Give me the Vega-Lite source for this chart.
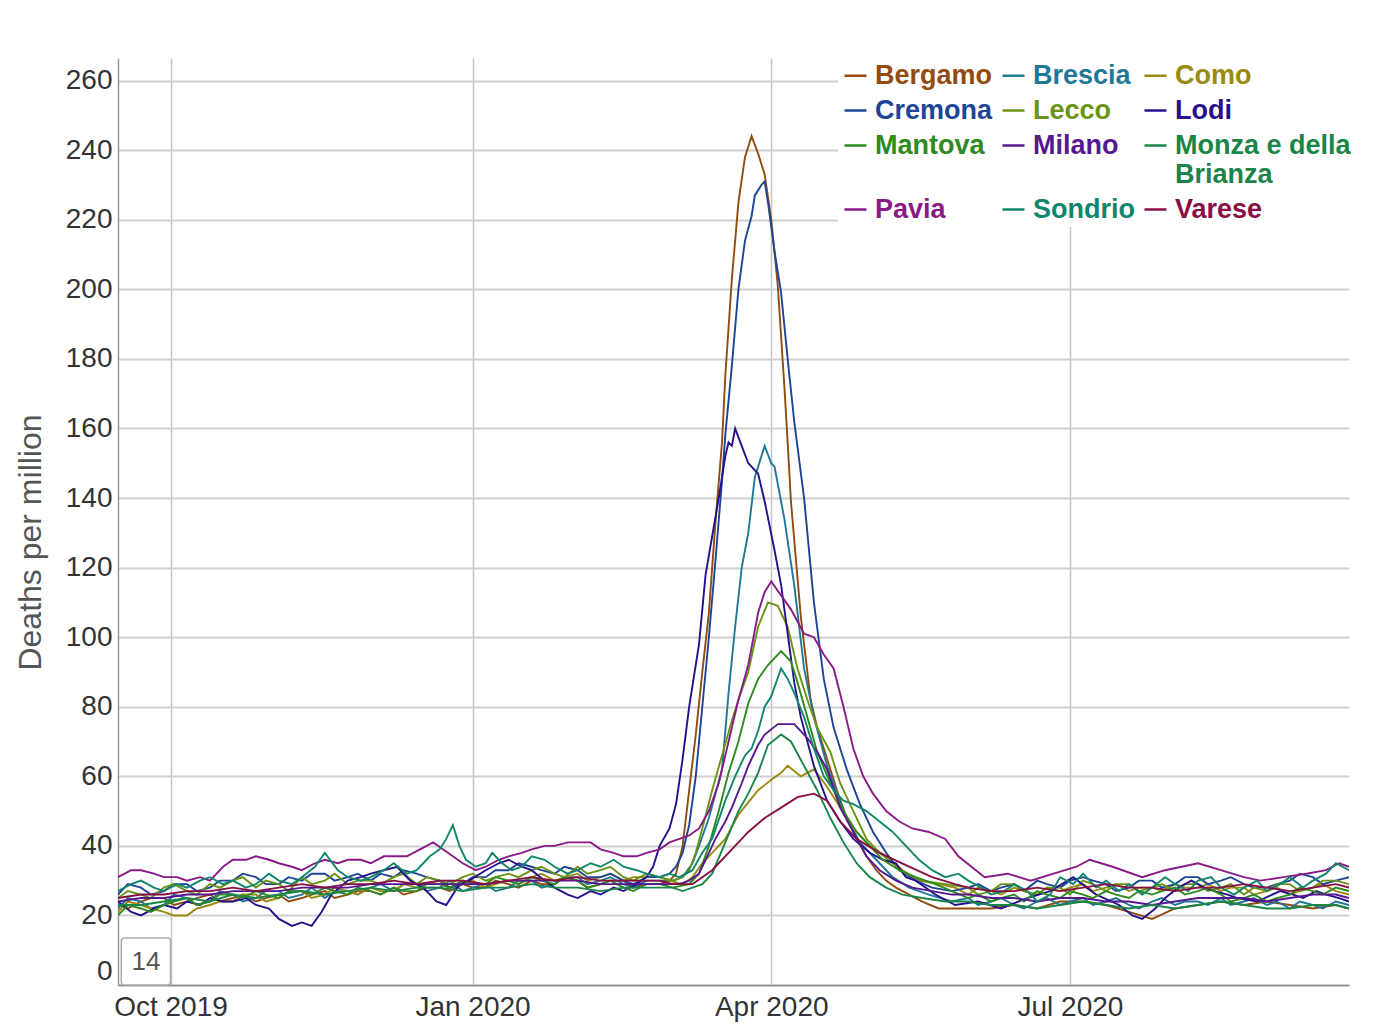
{
"$schema":"https://vega.github.io/schema/vega-lite/v6.json",
"width":1231,"height":927,
"autosize":{"type":"none"},
"padding":{"left":118,"top":58,"right":30,"bottom":38},
"background":"white",
"config":{"font":"Liberation Sans","view":{"stroke":null}},
"datasets":{"main":[
{"r":"Bergamo","d":"2019-09-15","v":23},{"r":"Bergamo","d":"2019-09-22","v":24},{"r":"Bergamo","d":"2019-09-29","v":25},{"r":"Bergamo","d":"2019-10-06","v":24},{"r":"Bergamo","d":"2019-10-13","v":26},{"r":"Bergamo","d":"2019-10-20","v":25},{"r":"Bergamo","d":"2019-10-27","v":24},{"r":"Bergamo","d":"2019-11-03","v":26},{"r":"Bergamo","d":"2019-11-10","v":25},{"r":"Bergamo","d":"2019-11-17","v":27},{"r":"Bergamo","d":"2019-11-24","v":26},{"r":"Bergamo","d":"2019-12-01","v":27},{"r":"Bergamo","d":"2019-12-08","v":28},{"r":"Bergamo","d":"2019-12-15","v":27},{"r":"Bergamo","d":"2019-12-22","v":28},{"r":"Bergamo","d":"2019-12-29","v":29},{"r":"Bergamo","d":"2020-01-05","v":28},{"r":"Bergamo","d":"2020-01-12","v":29},{"r":"Bergamo","d":"2020-01-19","v":30},{"r":"Bergamo","d":"2020-01-26","v":29},{"r":"Bergamo","d":"2020-02-02","v":30},{"r":"Bergamo","d":"2020-02-09","v":29},{"r":"Bergamo","d":"2020-02-16","v":30},{"r":"Bergamo","d":"2020-02-23","v":29},
{"r":"Bergamo","d":"2019-09-18","v":22},{"r":"Bergamo","d":"2019-09-25","v":25},{"r":"Bergamo","d":"2019-10-02","v":23},{"r":"Bergamo","d":"2019-10-09","v":25},{"r":"Bergamo","d":"2019-10-16","v":24},{"r":"Bergamo","d":"2019-10-23","v":26},{"r":"Bergamo","d":"2019-10-30","v":25},{"r":"Bergamo","d":"2019-11-06","v":24},{"r":"Bergamo","d":"2019-11-13","v":26},{"r":"Bergamo","d":"2019-11-20","v":25},{"r":"Bergamo","d":"2019-11-27","v":27},{"r":"Bergamo","d":"2019-12-04","v":26},{"r":"Bergamo","d":"2019-12-11","v":26},{"r":"Bergamo","d":"2019-12-18","v":28},{"r":"Bergamo","d":"2019-12-25","v":27},{"r":"Bergamo","d":"2020-01-01","v":28},{"r":"Bergamo","d":"2020-01-08","v":30},{"r":"Bergamo","d":"2020-01-15","v":28},{"r":"Bergamo","d":"2020-01-22","v":29},{"r":"Bergamo","d":"2020-01-29","v":31},{"r":"Bergamo","d":"2020-02-05","v":28},{"r":"Bergamo","d":"2020-02-12","v":30},{"r":"Bergamo","d":"2020-02-19","v":28},
{"r":"Bergamo","d":"2020-02-27","v":29},{"r":"Bergamo","d":"2020-03-01","v":30},{"r":"Bergamo","d":"2020-03-03","v":32},{"r":"Bergamo","d":"2020-03-05","v":40},{"r":"Bergamo","d":"2020-03-07","v":56},{"r":"Bergamo","d":"2020-03-09","v":72},{"r":"Bergamo","d":"2020-03-11","v":90},{"r":"Bergamo","d":"2020-03-13","v":107},{"r":"Bergamo","d":"2020-03-15","v":133},{"r":"Bergamo","d":"2020-03-17","v":156},{"r":"Bergamo","d":"2020-03-18","v":175},{"r":"Bergamo","d":"2020-03-20","v":203},{"r":"Bergamo","d":"2020-03-22","v":225},{"r":"Bergamo","d":"2020-03-24","v":238},{"r":"Bergamo","d":"2020-03-26","v":244},{"r":"Bergamo","d":"2020-03-28","v":239},{"r":"Bergamo","d":"2020-03-30","v":233},{"r":"Bergamo","d":"2020-04-01","v":220},{"r":"Bergamo","d":"2020-04-03","v":201},{"r":"Bergamo","d":"2020-04-05","v":172},{"r":"Bergamo","d":"2020-04-06","v":156},{"r":"Bergamo","d":"2020-04-07","v":139},{"r":"Bergamo","d":"2020-04-10","v":106},{"r":"Bergamo","d":"2020-04-13","v":82},{"r":"Bergamo","d":"2020-04-15","v":74},{"r":"Bergamo","d":"2020-04-18","v":65},{"r":"Bergamo","d":"2020-04-21","v":56},{"r":"Bergamo","d":"2020-04-24","v":48},{"r":"Bergamo","d":"2020-04-27","v":42},{"r":"Bergamo","d":"2020-04-30","v":37},{"r":"Bergamo","d":"2020-05-03","v":33},{"r":"Bergamo","d":"2020-05-06","v":30},{"r":"Bergamo","d":"2020-05-09","v":28},{"r":"Bergamo","d":"2020-05-13","v":26},{"r":"Bergamo","d":"2020-05-17","v":24},{"r":"Bergamo","d":"2020-05-22","v":22},{"r":"Bergamo","d":"2020-05-27","v":22},
{"r":"Bergamo","d":"2020-05-31","v":22},{"r":"Bergamo","d":"2020-06-07","v":22},{"r":"Bergamo","d":"2020-06-14","v":23},{"r":"Bergamo","d":"2020-06-21","v":22},{"r":"Bergamo","d":"2020-06-28","v":24},{"r":"Bergamo","d":"2020-07-05","v":24},{"r":"Bergamo","d":"2020-07-12","v":23},{"r":"Bergamo","d":"2020-07-19","v":21},{"r":"Bergamo","d":"2020-07-26","v":19},{"r":"Bergamo","d":"2020-08-02","v":22},{"r":"Bergamo","d":"2020-08-09","v":23},{"r":"Bergamo","d":"2020-08-16","v":24},{"r":"Bergamo","d":"2020-08-23","v":23},{"r":"Bergamo","d":"2020-08-30","v":24},{"r":"Bergamo","d":"2020-09-06","v":23},{"r":"Bergamo","d":"2020-09-13","v":22},{"r":"Bergamo","d":"2020-09-20","v":23},{"r":"Bergamo","d":"2020-09-24","v":22},

{"r":"Brescia","d":"2019-09-15","v":22},{"r":"Brescia","d":"2019-09-22","v":24},{"r":"Brescia","d":"2019-09-29","v":23},{"r":"Brescia","d":"2019-10-06","v":25},{"r":"Brescia","d":"2019-10-13","v":24},{"r":"Brescia","d":"2019-10-20","v":26},{"r":"Brescia","d":"2019-10-27","v":25},{"r":"Brescia","d":"2019-11-03","v":27},{"r":"Brescia","d":"2019-11-10","v":26},{"r":"Brescia","d":"2019-11-17","v":25},{"r":"Brescia","d":"2019-11-24","v":27},{"r":"Brescia","d":"2019-12-01","v":28},{"r":"Brescia","d":"2019-12-08","v":27},{"r":"Brescia","d":"2019-12-15","v":29},{"r":"Brescia","d":"2019-12-22","v":28},{"r":"Brescia","d":"2019-12-29","v":27},{"r":"Brescia","d":"2020-01-05","v":29},{"r":"Brescia","d":"2020-01-12","v":28},{"r":"Brescia","d":"2020-01-19","v":30},{"r":"Brescia","d":"2020-01-26","v":29},{"r":"Brescia","d":"2020-02-02","v":31},{"r":"Brescia","d":"2020-02-09","v":30},{"r":"Brescia","d":"2020-02-16","v":29},{"r":"Brescia","d":"2020-02-23","v":30},
{"r":"Brescia","d":"2019-09-18","v":25},{"r":"Brescia","d":"2019-09-25","v":22},{"r":"Brescia","d":"2019-10-02","v":26},{"r":"Brescia","d":"2019-10-09","v":23},{"r":"Brescia","d":"2019-10-16","v":27},{"r":"Brescia","d":"2019-10-23","v":24},{"r":"Brescia","d":"2019-10-30","v":27},{"r":"Brescia","d":"2019-11-06","v":25},{"r":"Brescia","d":"2019-11-13","v":28},{"r":"Brescia","d":"2019-11-20","v":27},{"r":"Brescia","d":"2019-11-27","v":26},{"r":"Brescia","d":"2019-12-04","v":29},{"r":"Brescia","d":"2019-12-11","v":29},{"r":"Brescia","d":"2019-12-18","v":27},{"r":"Brescia","d":"2019-12-25","v":30},{"r":"Brescia","d":"2020-01-01","v":28},{"r":"Brescia","d":"2020-01-08","v":27},{"r":"Brescia","d":"2020-01-15","v":30},{"r":"Brescia","d":"2020-01-22","v":28},{"r":"Brescia","d":"2020-01-29","v":31},{"r":"Brescia","d":"2020-02-05","v":29},{"r":"Brescia","d":"2020-02-12","v":31},{"r":"Brescia","d":"2020-02-19","v":28},
{"r":"Brescia","d":"2020-02-27","v":30},{"r":"Brescia","d":"2020-03-02","v":30},{"r":"Brescia","d":"2020-03-05","v":31},{"r":"Brescia","d":"2020-03-08","v":35},{"r":"Brescia","d":"2020-03-10","v":40},{"r":"Brescia","d":"2020-03-13","v":48},{"r":"Brescia","d":"2020-03-15","v":55},{"r":"Brescia","d":"2020-03-17","v":62},{"r":"Brescia","d":"2020-03-19","v":84},{"r":"Brescia","d":"2020-03-21","v":103},{"r":"Brescia","d":"2020-03-23","v":120},{"r":"Brescia","d":"2020-03-25","v":130},{"r":"Brescia","d":"2020-03-27","v":146},{"r":"Brescia","d":"2020-03-30","v":155},{"r":"Brescia","d":"2020-04-01","v":150},{"r":"Brescia","d":"2020-04-02","v":149},{"r":"Brescia","d":"2020-04-05","v":134},{"r":"Brescia","d":"2020-04-08","v":115},{"r":"Brescia","d":"2020-04-11","v":91},{"r":"Brescia","d":"2020-04-14","v":77},{"r":"Brescia","d":"2020-04-18","v":63},{"r":"Brescia","d":"2020-04-21","v":55},{"r":"Brescia","d":"2020-04-24","v":48},{"r":"Brescia","d":"2020-04-28","v":41},{"r":"Brescia","d":"2020-05-03","v":36},{"r":"Brescia","d":"2020-05-08","v":31},{"r":"Brescia","d":"2020-05-13","v":28},{"r":"Brescia","d":"2020-05-19","v":26},{"r":"Brescia","d":"2020-05-26","v":24},
{"r":"Brescia","d":"2020-05-31","v":25},{"r":"Brescia","d":"2020-06-07","v":24},{"r":"Brescia","d":"2020-06-14","v":23},{"r":"Brescia","d":"2020-06-21","v":24},{"r":"Brescia","d":"2020-06-28","v":23},{"r":"Brescia","d":"2020-07-05","v":25},{"r":"Brescia","d":"2020-07-12","v":24},{"r":"Brescia","d":"2020-07-19","v":23},{"r":"Brescia","d":"2020-07-26","v":24},{"r":"Brescia","d":"2020-08-02","v":23},{"r":"Brescia","d":"2020-08-09","v":24},{"r":"Brescia","d":"2020-08-16","v":25},{"r":"Brescia","d":"2020-08-23","v":24},{"r":"Brescia","d":"2020-08-30","v":23},{"r":"Brescia","d":"2020-09-06","v":22},{"r":"Brescia","d":"2020-09-13","v":23},{"r":"Brescia","d":"2020-09-20","v":24},{"r":"Brescia","d":"2020-09-24","v":23},
{"r":"Brescia","d":"2020-06-03","v":23},{"r":"Brescia","d":"2020-06-10","v":25},{"r":"Brescia","d":"2020-06-17","v":22},{"r":"Brescia","d":"2020-06-24","v":25},{"r":"Brescia","d":"2020-07-01","v":24},{"r":"Brescia","d":"2020-07-08","v":23},{"r":"Brescia","d":"2020-07-15","v":25},{"r":"Brescia","d":"2020-07-22","v":22},{"r":"Brescia","d":"2020-07-29","v":25},{"r":"Brescia","d":"2020-08-05","v":24},{"r":"Brescia","d":"2020-08-12","v":23},{"r":"Brescia","d":"2020-08-19","v":23},{"r":"Brescia","d":"2020-08-26","v":25},{"r":"Brescia","d":"2020-09-02","v":24},{"r":"Brescia","d":"2020-09-09","v":24},{"r":"Brescia","d":"2020-09-16","v":22},

{"r":"Como","d":"2019-09-15","v":21},{"r":"Como","d":"2019-09-22","v":23},{"r":"Como","d":"2019-09-29","v":21},{"r":"Como","d":"2019-10-06","v":20},{"r":"Como","d":"2019-10-13","v":23},{"r":"Como","d":"2019-10-20","v":24},{"r":"Como","d":"2019-10-27","v":26},{"r":"Como","d":"2019-11-03","v":25},{"r":"Como","d":"2019-11-10","v":27},{"r":"Como","d":"2019-11-17","v":26},{"r":"Como","d":"2019-11-24","v":27},{"r":"Como","d":"2019-12-01","v":28},{"r":"Como","d":"2019-12-08","v":27},{"r":"Como","d":"2019-12-15","v":28},{"r":"Como","d":"2019-12-22","v":30},{"r":"Como","d":"2019-12-29","v":29},{"r":"Como","d":"2020-01-05","v":28},{"r":"Como","d":"2020-01-12","v":30},{"r":"Como","d":"2020-01-19","v":31},{"r":"Como","d":"2020-01-26","v":30},{"r":"Como","d":"2020-02-02","v":32},{"r":"Como","d":"2020-02-09","v":31},{"r":"Como","d":"2020-02-16","v":30},{"r":"Como","d":"2020-02-23","v":31},
{"r":"Como","d":"2019-09-18","v":24},{"r":"Como","d":"2019-09-25","v":22},{"r":"Como","d":"2019-10-02","v":20},{"r":"Como","d":"2019-10-09","v":22},{"r":"Como","d":"2019-10-16","v":24},{"r":"Como","d":"2019-10-23","v":26},{"r":"Como","d":"2019-10-30","v":24},{"r":"Como","d":"2019-11-06","v":27},{"r":"Como","d":"2019-11-13","v":25},{"r":"Como","d":"2019-11-20","v":28},{"r":"Como","d":"2019-11-27","v":26},{"r":"Como","d":"2019-12-04","v":27},{"r":"Como","d":"2019-12-11","v":29},{"r":"Como","d":"2019-12-18","v":29},{"r":"Como","d":"2019-12-25","v":28},{"r":"Como","d":"2020-01-01","v":30},{"r":"Como","d":"2020-01-08","v":29},{"r":"Como","d":"2020-01-15","v":29},{"r":"Como","d":"2020-01-22","v":32},{"r":"Como","d":"2020-01-29","v":31},{"r":"Como","d":"2020-02-05","v":30},{"r":"Como","d":"2020-02-12","v":32},{"r":"Como","d":"2020-02-19","v":31},
{"r":"Como","d":"2020-02-27","v":31},{"r":"Como","d":"2020-03-01","v":30},{"r":"Como","d":"2020-03-05","v":29},{"r":"Como","d":"2020-03-08","v":31},{"r":"Como","d":"2020-03-11","v":35},{"r":"Como","d":"2020-03-14","v":38},{"r":"Como","d":"2020-03-18","v":42},{"r":"Como","d":"2020-03-22","v":49},{"r":"Como","d":"2020-03-28","v":56},{"r":"Como","d":"2020-04-01","v":59},{"r":"Como","d":"2020-04-04","v":61},{"r":"Como","d":"2020-04-06","v":63},{"r":"Como","d":"2020-04-10","v":60},{"r":"Como","d":"2020-04-14","v":62},{"r":"Como","d":"2020-04-18","v":57},{"r":"Como","d":"2020-04-22","v":51},{"r":"Como","d":"2020-04-26","v":45},{"r":"Como","d":"2020-05-01","v":40},{"r":"Como","d":"2020-05-06","v":37},{"r":"Como","d":"2020-05-11","v":33},{"r":"Como","d":"2020-05-16","v":30},{"r":"Como","d":"2020-05-22","v":29},{"r":"Como","d":"2020-05-27","v":28},
{"r":"Como","d":"2020-05-31","v":26},{"r":"Como","d":"2020-06-07","v":27},{"r":"Como","d":"2020-06-14","v":28},{"r":"Como","d":"2020-06-21","v":26},{"r":"Como","d":"2020-06-28","v":27},{"r":"Como","d":"2020-07-05","v":29},{"r":"Como","d":"2020-07-12","v":28},{"r":"Como","d":"2020-07-19","v":27},{"r":"Como","d":"2020-07-26","v":28},{"r":"Como","d":"2020-08-02","v":29},{"r":"Como","d":"2020-08-09","v":28},{"r":"Como","d":"2020-08-16","v":27},{"r":"Como","d":"2020-08-23","v":28},{"r":"Como","d":"2020-08-30","v":27},{"r":"Como","d":"2020-09-06","v":26},{"r":"Como","d":"2020-09-13","v":28},{"r":"Como","d":"2020-09-20","v":27},{"r":"Como","d":"2020-09-24","v":26},
{"r":"Como","d":"2020-06-03","v":28},{"r":"Como","d":"2020-06-10","v":26},{"r":"Como","d":"2020-06-17","v":27},{"r":"Como","d":"2020-06-24","v":28},{"r":"Como","d":"2020-07-01","v":28},{"r":"Como","d":"2020-07-08","v":27},{"r":"Como","d":"2020-07-15","v":29},{"r":"Como","d":"2020-07-22","v":28},{"r":"Como","d":"2020-07-29","v":27},{"r":"Como","d":"2020-08-05","v":28},{"r":"Como","d":"2020-08-12","v":29},{"r":"Como","d":"2020-08-19","v":28},{"r":"Como","d":"2020-08-26","v":26},{"r":"Como","d":"2020-09-02","v":28},{"r":"Como","d":"2020-09-09","v":27},{"r":"Como","d":"2020-09-16","v":29},

{"r":"Cremona","d":"2019-09-15","v":26},{"r":"Cremona","d":"2019-09-22","v":28},{"r":"Cremona","d":"2019-09-29","v":27},{"r":"Cremona","d":"2019-10-06","v":29},{"r":"Cremona","d":"2019-10-13","v":28},{"r":"Cremona","d":"2019-10-20","v":30},{"r":"Cremona","d":"2019-10-27","v":31},{"r":"Cremona","d":"2019-11-03","v":29},{"r":"Cremona","d":"2019-11-10","v":30},{"r":"Cremona","d":"2019-11-17","v":32},{"r":"Cremona","d":"2019-11-24","v":31},{"r":"Cremona","d":"2019-12-01","v":30},{"r":"Cremona","d":"2019-12-08","v":31},{"r":"Cremona","d":"2019-12-15","v":32},{"r":"Cremona","d":"2019-12-22","v":30},{"r":"Cremona","d":"2019-12-29","v":29},{"r":"Cremona","d":"2020-01-05","v":31},{"r":"Cremona","d":"2020-01-12","v":33},{"r":"Cremona","d":"2020-01-19","v":34},{"r":"Cremona","d":"2020-01-26","v":32},{"r":"Cremona","d":"2020-02-02","v":33},{"r":"Cremona","d":"2020-02-09","v":31},{"r":"Cremona","d":"2020-02-16","v":30},{"r":"Cremona","d":"2020-02-23","v":31},
{"r":"Cremona","d":"2019-09-18","v":29},{"r":"Cremona","d":"2019-09-25","v":26},{"r":"Cremona","d":"2019-10-02","v":29},{"r":"Cremona","d":"2019-10-09","v":27},{"r":"Cremona","d":"2019-10-16","v":30},{"r":"Cremona","d":"2019-10-23","v":32},{"r":"Cremona","d":"2019-10-30","v":29},{"r":"Cremona","d":"2019-11-06","v":31},{"r":"Cremona","d":"2019-11-13","v":32},{"r":"Cremona","d":"2019-11-20","v":30},{"r":"Cremona","d":"2019-11-27","v":32},{"r":"Cremona","d":"2019-12-04","v":32},{"r":"Cremona","d":"2019-12-11","v":33},{"r":"Cremona","d":"2019-12-18","v":31},{"r":"Cremona","d":"2019-12-25","v":28},{"r":"Cremona","d":"2020-01-01","v":31},{"r":"Cremona","d":"2020-01-08","v":33},{"r":"Cremona","d":"2020-01-15","v":35},{"r":"Cremona","d":"2020-01-22","v":33},{"r":"Cremona","d":"2020-01-29","v":34},{"r":"Cremona","d":"2020-02-05","v":31},{"r":"Cremona","d":"2020-02-12","v":32},{"r":"Cremona","d":"2020-02-19","v":29},
{"r":"Cremona","d":"2020-02-27","v":31},{"r":"Cremona","d":"2020-03-01","v":32},{"r":"Cremona","d":"2020-03-03","v":34},{"r":"Cremona","d":"2020-03-05","v":38},{"r":"Cremona","d":"2020-03-07","v":46},{"r":"Cremona","d":"2020-03-09","v":60},{"r":"Cremona","d":"2020-03-11","v":80},{"r":"Cremona","d":"2020-03-13","v":100},{"r":"Cremona","d":"2020-03-15","v":122},{"r":"Cremona","d":"2020-03-17","v":145},{"r":"Cremona","d":"2020-03-18","v":158},{"r":"Cremona","d":"2020-03-20","v":178},{"r":"Cremona","d":"2020-03-22","v":200},{"r":"Cremona","d":"2020-03-24","v":214},{"r":"Cremona","d":"2020-03-26","v":221},{"r":"Cremona","d":"2020-03-27","v":227},{"r":"Cremona","d":"2020-03-29","v":230},{"r":"Cremona","d":"2020-03-30","v":231},{"r":"Cremona","d":"2020-03-31","v":225},{"r":"Cremona","d":"2020-04-02","v":211},{"r":"Cremona","d":"2020-04-04","v":199},{"r":"Cremona","d":"2020-04-06","v":180},{"r":"Cremona","d":"2020-04-08","v":162},{"r":"Cremona","d":"2020-04-11","v":140},{"r":"Cremona","d":"2020-04-14","v":110},{"r":"Cremona","d":"2020-04-17","v":88},{"r":"Cremona","d":"2020-04-20","v":74},{"r":"Cremona","d":"2020-04-24","v":62},{"r":"Cremona","d":"2020-04-28","v":52},{"r":"Cremona","d":"2020-05-02","v":44},{"r":"Cremona","d":"2020-05-06","v":38},{"r":"Cremona","d":"2020-05-10","v":33},{"r":"Cremona","d":"2020-05-15","v":30},{"r":"Cremona","d":"2020-05-20","v":28},{"r":"Cremona","d":"2020-05-26","v":27},
{"r":"Cremona","d":"2020-05-31","v":28},{"r":"Cremona","d":"2020-06-07","v":27},{"r":"Cremona","d":"2020-06-14","v":29},{"r":"Cremona","d":"2020-06-21","v":30},{"r":"Cremona","d":"2020-06-28","v":28},{"r":"Cremona","d":"2020-07-05","v":31},{"r":"Cremona","d":"2020-07-12","v":29},{"r":"Cremona","d":"2020-07-19","v":28},{"r":"Cremona","d":"2020-07-26","v":30},{"r":"Cremona","d":"2020-08-02","v":29},{"r":"Cremona","d":"2020-08-09","v":31},{"r":"Cremona","d":"2020-08-16","v":30},{"r":"Cremona","d":"2020-08-23","v":29},{"r":"Cremona","d":"2020-08-30","v":28},{"r":"Cremona","d":"2020-09-06","v":30},{"r":"Cremona","d":"2020-09-13","v":31},{"r":"Cremona","d":"2020-09-20","v":30},{"r":"Cremona","d":"2020-09-24","v":31},
{"r":"Cremona","d":"2020-06-03","v":29},{"r":"Cremona","d":"2020-06-10","v":28},{"r":"Cremona","d":"2020-06-17","v":27},{"r":"Cremona","d":"2020-06-24","v":29},{"r":"Cremona","d":"2020-07-01","v":30},{"r":"Cremona","d":"2020-07-08","v":30},{"r":"Cremona","d":"2020-07-15","v":27},{"r":"Cremona","d":"2020-07-22","v":30},{"r":"Cremona","d":"2020-07-29","v":28},{"r":"Cremona","d":"2020-08-05","v":31},{"r":"Cremona","d":"2020-08-12","v":29},{"r":"Cremona","d":"2020-08-19","v":31},{"r":"Cremona","d":"2020-08-26","v":28},{"r":"Cremona","d":"2020-09-02","v":29},{"r":"Cremona","d":"2020-09-09","v":32},{"r":"Cremona","d":"2020-09-16","v":29},

{"r":"Lecco","d":"2019-09-15","v":25},{"r":"Lecco","d":"2019-09-22","v":26},{"r":"Lecco","d":"2019-09-29","v":28},{"r":"Lecco","d":"2019-10-06","v":27},{"r":"Lecco","d":"2019-10-13","v":29},{"r":"Lecco","d":"2019-10-20","v":30},{"r":"Lecco","d":"2019-10-27","v":28},{"r":"Lecco","d":"2019-11-03","v":29},{"r":"Lecco","d":"2019-11-10","v":31},{"r":"Lecco","d":"2019-11-17","v":30},{"r":"Lecco","d":"2019-11-24","v":29},{"r":"Lecco","d":"2019-12-01","v":30},{"r":"Lecco","d":"2019-12-08","v":31},{"r":"Lecco","d":"2019-12-15","v":29},{"r":"Lecco","d":"2019-12-22","v":30},{"r":"Lecco","d":"2019-12-29","v":31},{"r":"Lecco","d":"2020-01-05","v":30},{"r":"Lecco","d":"2020-01-12","v":32},{"r":"Lecco","d":"2020-01-19","v":33},{"r":"Lecco","d":"2020-01-26","v":32},{"r":"Lecco","d":"2020-02-02","v":34},{"r":"Lecco","d":"2020-02-09","v":33},{"r":"Lecco","d":"2020-02-16","v":31},{"r":"Lecco","d":"2020-02-23","v":32},
{"r":"Lecco","d":"2019-09-18","v":27},{"r":"Lecco","d":"2019-09-25","v":25},{"r":"Lecco","d":"2019-10-02","v":29},{"r":"Lecco","d":"2019-10-09","v":26},{"r":"Lecco","d":"2019-10-16","v":28},{"r":"Lecco","d":"2019-10-23","v":31},{"r":"Lecco","d":"2019-10-30","v":30},{"r":"Lecco","d":"2019-11-06","v":27},{"r":"Lecco","d":"2019-11-13","v":29},{"r":"Lecco","d":"2019-11-20","v":32},{"r":"Lecco","d":"2019-11-27","v":30},{"r":"Lecco","d":"2019-12-04","v":29},{"r":"Lecco","d":"2019-12-11","v":32},{"r":"Lecco","d":"2019-12-18","v":31},{"r":"Lecco","d":"2019-12-25","v":29},{"r":"Lecco","d":"2020-01-01","v":32},{"r":"Lecco","d":"2020-01-08","v":31},{"r":"Lecco","d":"2020-01-15","v":31},{"r":"Lecco","d":"2020-01-22","v":34},{"r":"Lecco","d":"2020-01-29","v":31},{"r":"Lecco","d":"2020-02-05","v":32},{"r":"Lecco","d":"2020-02-12","v":34},{"r":"Lecco","d":"2020-02-19","v":30},
{"r":"Lecco","d":"2020-02-27","v":31},{"r":"Lecco","d":"2020-03-02","v":30},{"r":"Lecco","d":"2020-03-05","v":31},{"r":"Lecco","d":"2020-03-07","v":33},{"r":"Lecco","d":"2020-03-09","v":38},{"r":"Lecco","d":"2020-03-11","v":45},{"r":"Lecco","d":"2020-03-14","v":56},{"r":"Lecco","d":"2020-03-17","v":66},{"r":"Lecco","d":"2020-03-20","v":76},{"r":"Lecco","d":"2020-03-22","v":82},{"r":"Lecco","d":"2020-03-25","v":90},{"r":"Lecco","d":"2020-03-28","v":103},{"r":"Lecco","d":"2020-03-31","v":110},{"r":"Lecco","d":"2020-04-03","v":109},{"r":"Lecco","d":"2020-04-06","v":103},{"r":"Lecco","d":"2020-04-09","v":91},{"r":"Lecco","d":"2020-04-12","v":82},{"r":"Lecco","d":"2020-04-15","v":74},{"r":"Lecco","d":"2020-04-19","v":67},{"r":"Lecco","d":"2020-04-22","v":58},{"r":"Lecco","d":"2020-04-26","v":50},{"r":"Lecco","d":"2020-04-30","v":42},{"r":"Lecco","d":"2020-05-04","v":38},{"r":"Lecco","d":"2020-05-08","v":35},{"r":"Lecco","d":"2020-05-12","v":32},{"r":"Lecco","d":"2020-05-17","v":30},{"r":"Lecco","d":"2020-05-24","v":29},
{"r":"Lecco","d":"2020-05-31","v":28},{"r":"Lecco","d":"2020-06-07","v":27},{"r":"Lecco","d":"2020-06-14","v":29},{"r":"Lecco","d":"2020-06-21","v":26},{"r":"Lecco","d":"2020-06-28","v":28},{"r":"Lecco","d":"2020-07-05","v":30},{"r":"Lecco","d":"2020-07-12","v":27},{"r":"Lecco","d":"2020-07-19","v":29},{"r":"Lecco","d":"2020-07-26","v":28},{"r":"Lecco","d":"2020-08-02","v":27},{"r":"Lecco","d":"2020-08-09","v":29},{"r":"Lecco","d":"2020-08-16","v":28},{"r":"Lecco","d":"2020-08-23","v":26},{"r":"Lecco","d":"2020-08-30","v":27},{"r":"Lecco","d":"2020-09-06","v":29},{"r":"Lecco","d":"2020-09-13","v":28},{"r":"Lecco","d":"2020-09-20","v":30},{"r":"Lecco","d":"2020-09-24","v":29},
{"r":"Lecco","d":"2020-06-03","v":26},{"r":"Lecco","d":"2020-06-10","v":29},{"r":"Lecco","d":"2020-06-17","v":27},{"r":"Lecco","d":"2020-06-24","v":28},{"r":"Lecco","d":"2020-07-01","v":26},{"r":"Lecco","d":"2020-07-08","v":29},{"r":"Lecco","d":"2020-07-15","v":29},{"r":"Lecco","d":"2020-07-22","v":27},{"r":"Lecco","d":"2020-07-29","v":29},{"r":"Lecco","d":"2020-08-05","v":29},{"r":"Lecco","d":"2020-08-12","v":27},{"r":"Lecco","d":"2020-08-19","v":29},{"r":"Lecco","d":"2020-08-26","v":28},{"r":"Lecco","d":"2020-09-02","v":29},{"r":"Lecco","d":"2020-09-09","v":27},{"r":"Lecco","d":"2020-09-16","v":30},

{"r":"Lodi","d":"2019-09-15","v":24},{"r":"Lodi","d":"2019-09-19","v":21},{"r":"Lodi","d":"2019-09-22","v":20},{"r":"Lodi","d":"2019-09-26","v":22},{"r":"Lodi","d":"2019-09-29","v":23},{"r":"Lodi","d":"2019-10-03","v":22},{"r":"Lodi","d":"2019-10-06","v":24},{"r":"Lodi","d":"2019-10-10","v":23},{"r":"Lodi","d":"2019-10-13","v":25},{"r":"Lodi","d":"2019-10-17","v":24},{"r":"Lodi","d":"2019-10-20","v":24},{"r":"Lodi","d":"2019-10-24","v":25},{"r":"Lodi","d":"2019-10-27","v":23},{"r":"Lodi","d":"2019-10-31","v":22},{"r":"Lodi","d":"2019-11-03","v":19},{"r":"Lodi","d":"2019-11-07","v":17},{"r":"Lodi","d":"2019-11-10","v":18},{"r":"Lodi","d":"2019-11-13","v":17},{"r":"Lodi","d":"2019-11-16","v":21},{"r":"Lodi","d":"2019-11-19","v":26},{"r":"Lodi","d":"2019-11-24","v":30},{"r":"Lodi","d":"2019-11-28","v":31},{"r":"Lodi","d":"2019-12-01","v":32},{"r":"Lodi","d":"2019-12-05","v":33},{"r":"Lodi","d":"2019-12-09","v":34},{"r":"Lodi","d":"2019-12-13","v":30},{"r":"Lodi","d":"2019-12-17","v":28},{"r":"Lodi","d":"2019-12-21","v":24},{"r":"Lodi","d":"2019-12-24","v":23},{"r":"Lodi","d":"2019-12-28","v":29},{"r":"Lodi","d":"2019-12-31","v":30},{"r":"Lodi","d":"2020-01-05","v":33},{"r":"Lodi","d":"2020-01-09","v":35},{"r":"Lodi","d":"2020-01-12","v":36},{"r":"Lodi","d":"2020-01-16","v":34},{"r":"Lodi","d":"2020-01-19","v":33},{"r":"Lodi","d":"2020-01-23","v":30},{"r":"Lodi","d":"2020-01-26","v":28},{"r":"Lodi","d":"2020-01-30","v":26},{"r":"Lodi","d":"2020-02-02","v":25},{"r":"Lodi","d":"2020-02-06","v":27},{"r":"Lodi","d":"2020-02-09","v":26},{"r":"Lodi","d":"2020-02-13","v":28},{"r":"Lodi","d":"2020-02-16","v":27},{"r":"Lodi","d":"2020-02-20","v":29},{"r":"Lodi","d":"2020-02-23","v":31},
{"r":"Lodi","d":"2020-02-25","v":34},{"r":"Lodi","d":"2020-02-27","v":40},{"r":"Lodi","d":"2020-03-01","v":45},{"r":"Lodi","d":"2020-03-03","v":52},{"r":"Lodi","d":"2020-03-05","v":65},{"r":"Lodi","d":"2020-03-07","v":80},{"r":"Lodi","d":"2020-03-09","v":92},{"r":"Lodi","d":"2020-03-10","v":98},{"r":"Lodi","d":"2020-03-12","v":118},{"r":"Lodi","d":"2020-03-14","v":129},{"r":"Lodi","d":"2020-03-16","v":140},{"r":"Lodi","d":"2020-03-18","v":152},{"r":"Lodi","d":"2020-03-19","v":156},{"r":"Lodi","d":"2020-03-20","v":155},{"r":"Lodi","d":"2020-03-21","v":160},{"r":"Lodi","d":"2020-03-23","v":155},{"r":"Lodi","d":"2020-03-25","v":150},{"r":"Lodi","d":"2020-03-28","v":147},{"r":"Lodi","d":"2020-03-30","v":139},{"r":"Lodi","d":"2020-04-02","v":125},{"r":"Lodi","d":"2020-04-04","v":115},{"r":"Lodi","d":"2020-04-06","v":101},{"r":"Lodi","d":"2020-04-08","v":87},{"r":"Lodi","d":"2020-04-10","v":77},{"r":"Lodi","d":"2020-04-14","v":63},{"r":"Lodi","d":"2020-04-18","v":53},{"r":"Lodi","d":"2020-04-22","v":47},{"r":"Lodi","d":"2020-04-26","v":42},{"r":"Lodi","d":"2020-05-01","v":38},{"r":"Lodi","d":"2020-05-05","v":36},{"r":"Lodi","d":"2020-05-09","v":35},{"r":"Lodi","d":"2020-05-12","v":31},{"r":"Lodi","d":"2020-05-15","v":30},{"r":"Lodi","d":"2020-05-21","v":26},{"r":"Lodi","d":"2020-05-27","v":23},
{"r":"Lodi","d":"2020-06-03","v":24},{"r":"Lodi","d":"2020-06-10","v":22},{"r":"Lodi","d":"2020-06-18","v":25},{"r":"Lodi","d":"2020-06-25","v":27},{"r":"Lodi","d":"2020-07-02","v":31},{"r":"Lodi","d":"2020-07-06","v":28},{"r":"Lodi","d":"2020-07-09","v":26},{"r":"Lodi","d":"2020-07-16","v":23},{"r":"Lodi","d":"2020-07-20","v":20},{"r":"Lodi","d":"2020-07-23","v":19},{"r":"Lodi","d":"2020-07-27","v":22},{"r":"Lodi","d":"2020-07-30","v":25},{"r":"Lodi","d":"2020-08-03","v":28},{"r":"Lodi","d":"2020-08-07","v":30},{"r":"Lodi","d":"2020-08-11","v":28},{"r":"Lodi","d":"2020-08-14","v":27},{"r":"Lodi","d":"2020-08-18","v":26},{"r":"Lodi","d":"2020-08-21","v":25},{"r":"Lodi","d":"2020-08-27","v":24},{"r":"Lodi","d":"2020-09-03","v":27},{"r":"Lodi","d":"2020-09-07","v":26},{"r":"Lodi","d":"2020-09-10","v":25},{"r":"Lodi","d":"2020-09-14","v":27},{"r":"Lodi","d":"2020-09-17","v":26},{"r":"Lodi","d":"2020-09-21","v":25},{"r":"Lodi","d":"2020-09-24","v":24},

{"r":"Mantova","d":"2019-09-15","v":20},{"r":"Mantova","d":"2019-09-22","v":22},{"r":"Mantova","d":"2019-09-29","v":23},{"r":"Mantova","d":"2019-10-06","v":25},{"r":"Mantova","d":"2019-10-13","v":24},{"r":"Mantova","d":"2019-10-20","v":26},{"r":"Mantova","d":"2019-10-27","v":27},{"r":"Mantova","d":"2019-11-03","v":25},{"r":"Mantova","d":"2019-11-10","v":27},{"r":"Mantova","d":"2019-11-17","v":28},{"r":"Mantova","d":"2019-11-24","v":26},{"r":"Mantova","d":"2019-12-01","v":27},{"r":"Mantova","d":"2019-12-08","v":28},{"r":"Mantova","d":"2019-12-15","v":27},{"r":"Mantova","d":"2019-12-22","v":29},{"r":"Mantova","d":"2019-12-29","v":30},{"r":"Mantova","d":"2020-01-05","v":29},{"r":"Mantova","d":"2020-01-12","v":30},{"r":"Mantova","d":"2020-01-19","v":31},{"r":"Mantova","d":"2020-01-26","v":29},{"r":"Mantova","d":"2020-02-02","v":30},{"r":"Mantova","d":"2020-02-09","v":29},{"r":"Mantova","d":"2020-02-16","v":28},{"r":"Mantova","d":"2020-02-23","v":29},
{"r":"Mantova","d":"2019-09-18","v":23},{"r":"Mantova","d":"2019-09-25","v":21},{"r":"Mantova","d":"2019-10-02","v":24},{"r":"Mantova","d":"2019-10-09","v":23},{"r":"Mantova","d":"2019-10-16","v":26},{"r":"Mantova","d":"2019-10-23","v":25},{"r":"Mantova","d":"2019-10-30","v":26},{"r":"Mantova","d":"2019-11-06","v":27},{"r":"Mantova","d":"2019-11-13","v":26},{"r":"Mantova","d":"2019-11-20","v":27},{"r":"Mantova","d":"2019-11-27","v":28},{"r":"Mantova","d":"2019-12-04","v":26},{"r":"Mantova","d":"2019-12-11","v":27},{"r":"Mantova","d":"2019-12-18","v":29},{"r":"Mantova","d":"2019-12-25","v":28},{"r":"Mantova","d":"2020-01-01","v":29},{"r":"Mantova","d":"2020-01-08","v":31},{"r":"Mantova","d":"2020-01-15","v":29},{"r":"Mantova","d":"2020-01-22","v":30},{"r":"Mantova","d":"2020-01-29","v":31},{"r":"Mantova","d":"2020-02-05","v":28},{"r":"Mantova","d":"2020-02-12","v":30},{"r":"Mantova","d":"2020-02-19","v":27},
{"r":"Mantova","d":"2020-02-27","v":29},{"r":"Mantova","d":"2020-03-02","v":28},{"r":"Mantova","d":"2020-03-07","v":29},{"r":"Mantova","d":"2020-03-10","v":32},{"r":"Mantova","d":"2020-03-13","v":40},{"r":"Mantova","d":"2020-03-16","v":50},{"r":"Mantova","d":"2020-03-19","v":61},{"r":"Mantova","d":"2020-03-22","v":70},{"r":"Mantova","d":"2020-03-25","v":81},{"r":"Mantova","d":"2020-03-28","v":88},{"r":"Mantova","d":"2020-03-31","v":92},{"r":"Mantova","d":"2020-04-04","v":96},{"r":"Mantova","d":"2020-04-07","v":93},{"r":"Mantova","d":"2020-04-09","v":87},{"r":"Mantova","d":"2020-04-12","v":77},{"r":"Mantova","d":"2020-04-15","v":67},{"r":"Mantova","d":"2020-04-19","v":58},{"r":"Mantova","d":"2020-04-23","v":50},{"r":"Mantova","d":"2020-04-27","v":44},{"r":"Mantova","d":"2020-05-01","v":40},{"r":"Mantova","d":"2020-05-05","v":36},{"r":"Mantova","d":"2020-05-10","v":33},{"r":"Mantova","d":"2020-05-15","v":31},{"r":"Mantova","d":"2020-05-21","v":29},{"r":"Mantova","d":"2020-05-26","v":27},
{"r":"Mantova","d":"2020-05-31","v":25},{"r":"Mantova","d":"2020-06-07","v":24},{"r":"Mantova","d":"2020-06-14","v":26},{"r":"Mantova","d":"2020-06-21","v":27},{"r":"Mantova","d":"2020-06-28","v":25},{"r":"Mantova","d":"2020-07-05","v":26},{"r":"Mantova","d":"2020-07-12","v":27},{"r":"Mantova","d":"2020-07-19","v":25},{"r":"Mantova","d":"2020-07-26","v":26},{"r":"Mantova","d":"2020-08-02","v":28},{"r":"Mantova","d":"2020-08-09","v":27},{"r":"Mantova","d":"2020-08-16","v":26},{"r":"Mantova","d":"2020-08-23","v":25},{"r":"Mantova","d":"2020-08-30","v":24},{"r":"Mantova","d":"2020-09-06","v":26},{"r":"Mantova","d":"2020-09-13","v":27},{"r":"Mantova","d":"2020-09-20","v":28},{"r":"Mantova","d":"2020-09-24","v":27},
{"r":"Mantova","d":"2020-06-03","v":26},{"r":"Mantova","d":"2020-06-10","v":25},{"r":"Mantova","d":"2020-06-17","v":24},{"r":"Mantova","d":"2020-06-24","v":26},{"r":"Mantova","d":"2020-07-01","v":27},{"r":"Mantova","d":"2020-07-08","v":25},{"r":"Mantova","d":"2020-07-15","v":26},{"r":"Mantova","d":"2020-07-22","v":27},{"r":"Mantova","d":"2020-07-29","v":27},{"r":"Mantova","d":"2020-08-05","v":26},{"r":"Mantova","d":"2020-08-12","v":28},{"r":"Mantova","d":"2020-08-19","v":24},{"r":"Mantova","d":"2020-08-26","v":26},{"r":"Mantova","d":"2020-09-02","v":25},{"r":"Mantova","d":"2020-09-09","v":28},{"r":"Mantova","d":"2020-09-16","v":26},

{"r":"Milano","d":"2019-09-15","v":24},{"r":"Milano","d":"2019-09-22","v":25},{"r":"Milano","d":"2019-09-29","v":25},{"r":"Milano","d":"2019-10-06","v":26},{"r":"Milano","d":"2019-10-13","v":26},{"r":"Milano","d":"2019-10-20","v":27},{"r":"Milano","d":"2019-10-27","v":27},{"r":"Milano","d":"2019-11-03","v":27},{"r":"Milano","d":"2019-11-10","v":28},{"r":"Milano","d":"2019-11-17","v":28},{"r":"Milano","d":"2019-11-24","v":28},{"r":"Milano","d":"2019-12-01","v":29},{"r":"Milano","d":"2019-12-08","v":29},{"r":"Milano","d":"2019-12-15","v":29},{"r":"Milano","d":"2019-12-22","v":29},{"r":"Milano","d":"2019-12-29","v":29},{"r":"Milano","d":"2020-01-05","v":29},{"r":"Milano","d":"2020-01-12","v":30},{"r":"Milano","d":"2020-01-19","v":30},{"r":"Milano","d":"2020-01-26","v":30},{"r":"Milano","d":"2020-02-02","v":30},{"r":"Milano","d":"2020-02-09","v":29},{"r":"Milano","d":"2020-02-16","v":29},{"r":"Milano","d":"2020-02-23","v":29},
{"r":"Milano","d":"2020-02-27","v":29},{"r":"Milano","d":"2020-03-01","v":29},{"r":"Milano","d":"2020-03-04","v":29},{"r":"Milano","d":"2020-03-07","v":30},{"r":"Milano","d":"2020-03-10","v":32},{"r":"Milano","d":"2020-03-13","v":38},{"r":"Milano","d":"2020-03-15","v":42},{"r":"Milano","d":"2020-03-18","v":47},{"r":"Milano","d":"2020-03-20","v":51},{"r":"Milano","d":"2020-03-23","v":58},{"r":"Milano","d":"2020-03-25","v":63},{"r":"Milano","d":"2020-03-28","v":69},{"r":"Milano","d":"2020-03-30","v":72},{"r":"Milano","d":"2020-04-03","v":75},{"r":"Milano","d":"2020-04-08","v":75},{"r":"Milano","d":"2020-04-12","v":71},{"r":"Milano","d":"2020-04-15","v":67},{"r":"Milano","d":"2020-04-18","v":62},{"r":"Milano","d":"2020-04-22","v":51},{"r":"Milano","d":"2020-04-26","v":44},{"r":"Milano","d":"2020-04-30","v":37},{"r":"Milano","d":"2020-05-04","v":33},{"r":"Milano","d":"2020-05-09","v":30},{"r":"Milano","d":"2020-05-14","v":28},{"r":"Milano","d":"2020-05-20","v":27},{"r":"Milano","d":"2020-05-26","v":26},
{"r":"Milano","d":"2020-05-31","v":26},{"r":"Milano","d":"2020-06-07","v":25},{"r":"Milano","d":"2020-06-14","v":25},{"r":"Milano","d":"2020-06-21","v":24},{"r":"Milano","d":"2020-06-28","v":25},{"r":"Milano","d":"2020-07-05","v":25},{"r":"Milano","d":"2020-07-12","v":24},{"r":"Milano","d":"2020-07-19","v":24},{"r":"Milano","d":"2020-07-26","v":23},{"r":"Milano","d":"2020-08-02","v":24},{"r":"Milano","d":"2020-08-09","v":25},{"r":"Milano","d":"2020-08-16","v":25},{"r":"Milano","d":"2020-08-23","v":25},{"r":"Milano","d":"2020-08-30","v":24},{"r":"Milano","d":"2020-09-06","v":25},{"r":"Milano","d":"2020-09-13","v":26},{"r":"Milano","d":"2020-09-20","v":26},{"r":"Milano","d":"2020-09-24","v":25},

{"r":"Monza e della Brianza","d":"2019-09-15","v":23},{"r":"Monza e della Brianza","d":"2019-09-22","v":23},{"r":"Monza e della Brianza","d":"2019-09-29","v":24},{"r":"Monza e della Brianza","d":"2019-10-06","v":25},{"r":"Monza e della Brianza","d":"2019-10-13","v":24},{"r":"Monza e della Brianza","d":"2019-10-20","v":26},{"r":"Monza e della Brianza","d":"2019-10-27","v":25},{"r":"Monza e della Brianza","d":"2019-11-03","v":26},{"r":"Monza e della Brianza","d":"2019-11-10","v":27},{"r":"Monza e della Brianza","d":"2019-11-17","v":26},{"r":"Monza e della Brianza","d":"2019-11-24","v":27},{"r":"Monza e della Brianza","d":"2019-12-01","v":28},{"r":"Monza e della Brianza","d":"2019-12-08","v":27},{"r":"Monza e della Brianza","d":"2019-12-15","v":28},{"r":"Monza e della Brianza","d":"2019-12-22","v":28},{"r":"Monza e della Brianza","d":"2019-12-29","v":27},{"r":"Monza e della Brianza","d":"2020-01-05","v":28},{"r":"Monza e della Brianza","d":"2020-01-12","v":28},{"r":"Monza e della Brianza","d":"2020-01-19","v":29},{"r":"Monza e della Brianza","d":"2020-01-26","v":28},{"r":"Monza e della Brianza","d":"2020-02-02","v":28},{"r":"Monza e della Brianza","d":"2020-02-09","v":27},{"r":"Monza e della Brianza","d":"2020-02-16","v":28},{"r":"Monza e della Brianza","d":"2020-02-23","v":28},
{"r":"Monza e della Brianza","d":"2020-02-27","v":28},{"r":"Monza e della Brianza","d":"2020-03-02","v":28},{"r":"Monza e della Brianza","d":"2020-03-05","v":27},{"r":"Monza e della Brianza","d":"2020-03-08","v":28},{"r":"Monza e della Brianza","d":"2020-03-11","v":29},{"r":"Monza e della Brianza","d":"2020-03-14","v":32},{"r":"Monza e della Brianza","d":"2020-03-18","v":41},{"r":"Monza e della Brianza","d":"2020-03-22","v":50},{"r":"Monza e della Brianza","d":"2020-03-25","v":55},{"r":"Monza e della Brianza","d":"2020-03-28","v":61},{"r":"Monza e della Brianza","d":"2020-03-31","v":69},{"r":"Monza e della Brianza","d":"2020-04-04","v":72},{"r":"Monza e della Brianza","d":"2020-04-07","v":70},{"r":"Monza e della Brianza","d":"2020-04-11","v":63},{"r":"Monza e della Brianza","d":"2020-04-15","v":56},{"r":"Monza e della Brianza","d":"2020-04-19","v":48},{"r":"Monza e della Brianza","d":"2020-04-23","v":41},{"r":"Monza e della Brianza","d":"2020-04-27","v":35},{"r":"Monza e della Brianza","d":"2020-05-01","v":31},{"r":"Monza e della Brianza","d":"2020-05-06","v":28},{"r":"Monza e della Brianza","d":"2020-05-11","v":26},{"r":"Monza e della Brianza","d":"2020-05-17","v":25},{"r":"Monza e della Brianza","d":"2020-05-24","v":24},
{"r":"Monza e della Brianza","d":"2020-05-31","v":24},{"r":"Monza e della Brianza","d":"2020-06-07","v":23},{"r":"Monza e della Brianza","d":"2020-06-14","v":23},{"r":"Monza e della Brianza","d":"2020-06-21","v":22},{"r":"Monza e della Brianza","d":"2020-06-28","v":23},{"r":"Monza e della Brianza","d":"2020-07-05","v":24},{"r":"Monza e della Brianza","d":"2020-07-12","v":23},{"r":"Monza e della Brianza","d":"2020-07-19","v":22},{"r":"Monza e della Brianza","d":"2020-07-26","v":23},{"r":"Monza e della Brianza","d":"2020-08-02","v":22},{"r":"Monza e della Brianza","d":"2020-08-09","v":23},{"r":"Monza e della Brianza","d":"2020-08-16","v":24},{"r":"Monza e della Brianza","d":"2020-08-23","v":23},{"r":"Monza e della Brianza","d":"2020-08-30","v":22},{"r":"Monza e della Brianza","d":"2020-09-06","v":22},{"r":"Monza e della Brianza","d":"2020-09-13","v":23},{"r":"Monza e della Brianza","d":"2020-09-20","v":23},{"r":"Monza e della Brianza","d":"2020-09-24","v":22},

{"r":"Pavia","d":"2019-09-15","v":31},{"r":"Pavia","d":"2019-09-19","v":33},{"r":"Pavia","d":"2019-09-22","v":33},{"r":"Pavia","d":"2019-09-26","v":32},{"r":"Pavia","d":"2019-09-29","v":31},{"r":"Pavia","d":"2019-10-03","v":31},{"r":"Pavia","d":"2019-10-06","v":30},{"r":"Pavia","d":"2019-10-10","v":31},{"r":"Pavia","d":"2019-10-13","v":30},{"r":"Pavia","d":"2019-10-17","v":34},{"r":"Pavia","d":"2019-10-20","v":36},{"r":"Pavia","d":"2019-10-24","v":36},{"r":"Pavia","d":"2019-10-27","v":37},{"r":"Pavia","d":"2019-10-31","v":36},{"r":"Pavia","d":"2019-11-03","v":35},{"r":"Pavia","d":"2019-11-07","v":34},{"r":"Pavia","d":"2019-11-10","v":33},{"r":"Pavia","d":"2019-11-14","v":35},{"r":"Pavia","d":"2019-11-17","v":36},{"r":"Pavia","d":"2019-11-21","v":35},{"r":"Pavia","d":"2019-11-24","v":36},{"r":"Pavia","d":"2019-11-28","v":36},{"r":"Pavia","d":"2019-12-01","v":35},{"r":"Pavia","d":"2019-12-05","v":37},{"r":"Pavia","d":"2019-12-08","v":37},{"r":"Pavia","d":"2019-12-12","v":37},{"r":"Pavia","d":"2019-12-16","v":39},{"r":"Pavia","d":"2019-12-20","v":41},{"r":"Pavia","d":"2019-12-23","v":39},{"r":"Pavia","d":"2019-12-26","v":37},{"r":"Pavia","d":"2019-12-29","v":35},{"r":"Pavia","d":"2020-01-02","v":33},{"r":"Pavia","d":"2020-01-05","v":34},{"r":"Pavia","d":"2020-01-09","v":36},{"r":"Pavia","d":"2020-01-12","v":37},{"r":"Pavia","d":"2020-01-16","v":38},{"r":"Pavia","d":"2020-01-19","v":39},{"r":"Pavia","d":"2020-01-23","v":40},{"r":"Pavia","d":"2020-01-26","v":40},{"r":"Pavia","d":"2020-01-30","v":41},{"r":"Pavia","d":"2020-02-02","v":41},{"r":"Pavia","d":"2020-02-06","v":41},{"r":"Pavia","d":"2020-02-09","v":39},{"r":"Pavia","d":"2020-02-13","v":38},{"r":"Pavia","d":"2020-02-16","v":37},{"r":"Pavia","d":"2020-02-20","v":37},{"r":"Pavia","d":"2020-02-23","v":38},
{"r":"Pavia","d":"2020-02-27","v":39},{"r":"Pavia","d":"2020-03-01","v":41},{"r":"Pavia","d":"2020-03-04","v":42},{"r":"Pavia","d":"2020-03-07","v":43},{"r":"Pavia","d":"2020-03-10","v":45},{"r":"Pavia","d":"2020-03-13","v":50},{"r":"Pavia","d":"2020-03-16","v":58},{"r":"Pavia","d":"2020-03-19","v":70},{"r":"Pavia","d":"2020-03-22","v":82},{"r":"Pavia","d":"2020-03-25","v":92},{"r":"Pavia","d":"2020-03-28","v":107},{"r":"Pavia","d":"2020-03-30","v":113},{"r":"Pavia","d":"2020-04-01","v":116},{"r":"Pavia","d":"2020-04-04","v":112},{"r":"Pavia","d":"2020-04-07","v":108},{"r":"Pavia","d":"2020-04-11","v":101},{"r":"Pavia","d":"2020-04-14","v":100},{"r":"Pavia","d":"2020-04-17","v":95},{"r":"Pavia","d":"2020-04-20","v":91},{"r":"Pavia","d":"2020-04-23","v":80},{"r":"Pavia","d":"2020-04-26","v":68},{"r":"Pavia","d":"2020-04-29","v":60},{"r":"Pavia","d":"2020-05-02","v":55},{"r":"Pavia","d":"2020-05-06","v":50},{"r":"Pavia","d":"2020-05-10","v":47},{"r":"Pavia","d":"2020-05-14","v":45},{"r":"Pavia","d":"2020-05-19","v":44},{"r":"Pavia","d":"2020-05-24","v":42},{"r":"Pavia","d":"2020-05-28","v":37},{"r":"Pavia","d":"2020-06-01","v":34},{"r":"Pavia","d":"2020-06-05","v":31},
{"r":"Pavia","d":"2020-06-12","v":32},{"r":"Pavia","d":"2020-06-19","v":30},{"r":"Pavia","d":"2020-06-26","v":32},{"r":"Pavia","d":"2020-07-03","v":34},{"r":"Pavia","d":"2020-07-07","v":36},{"r":"Pavia","d":"2020-07-14","v":34},{"r":"Pavia","d":"2020-07-23","v":31},{"r":"Pavia","d":"2020-07-30","v":33},{"r":"Pavia","d":"2020-08-09","v":35},{"r":"Pavia","d":"2020-08-16","v":33},{"r":"Pavia","d":"2020-08-23","v":31},{"r":"Pavia","d":"2020-08-28","v":30},{"r":"Pavia","d":"2020-09-04","v":31},{"r":"Pavia","d":"2020-09-11","v":32},{"r":"Pavia","d":"2020-09-17","v":33},{"r":"Pavia","d":"2020-09-21","v":35},{"r":"Pavia","d":"2020-09-24","v":34},

{"r":"Sondrio","d":"2019-09-15","v":27},{"r":"Sondrio","d":"2019-09-19","v":29},{"r":"Sondrio","d":"2019-09-22","v":30},{"r":"Sondrio","d":"2019-09-26","v":28},{"r":"Sondrio","d":"2019-09-29","v":27},{"r":"Sondrio","d":"2019-10-03","v":29},{"r":"Sondrio","d":"2019-10-06","v":28},{"r":"Sondrio","d":"2019-10-10","v":30},{"r":"Sondrio","d":"2019-10-13","v":31},{"r":"Sondrio","d":"2019-10-17","v":29},{"r":"Sondrio","d":"2019-10-20","v":30},{"r":"Sondrio","d":"2019-10-24","v":28},{"r":"Sondrio","d":"2019-10-27","v":29},{"r":"Sondrio","d":"2019-10-31","v":32},{"r":"Sondrio","d":"2019-11-03","v":30},{"r":"Sondrio","d":"2019-11-07","v":29},{"r":"Sondrio","d":"2019-11-10","v":31},{"r":"Sondrio","d":"2019-11-14","v":34},{"r":"Sondrio","d":"2019-11-17","v":38},{"r":"Sondrio","d":"2019-11-21","v":33},{"r":"Sondrio","d":"2019-11-24","v":31},{"r":"Sondrio","d":"2019-11-28","v":30},{"r":"Sondrio","d":"2019-12-01","v":31},{"r":"Sondrio","d":"2019-12-05","v":33},{"r":"Sondrio","d":"2019-12-08","v":35},{"r":"Sondrio","d":"2019-12-12","v":32},{"r":"Sondrio","d":"2019-12-15","v":33},{"r":"Sondrio","d":"2019-12-19","v":37},{"r":"Sondrio","d":"2019-12-22","v":39},{"r":"Sondrio","d":"2019-12-24","v":42},{"r":"Sondrio","d":"2019-12-26","v":46},{"r":"Sondrio","d":"2019-12-28","v":40},{"r":"Sondrio","d":"2019-12-30","v":36},{"r":"Sondrio","d":"2020-01-02","v":34},{"r":"Sondrio","d":"2020-01-05","v":35},{"r":"Sondrio","d":"2020-01-07","v":38},{"r":"Sondrio","d":"2020-01-10","v":35},{"r":"Sondrio","d":"2020-01-13","v":33},{"r":"Sondrio","d":"2020-01-16","v":34},{"r":"Sondrio","d":"2020-01-19","v":37},{"r":"Sondrio","d":"2020-01-23","v":36},{"r":"Sondrio","d":"2020-01-26","v":34},{"r":"Sondrio","d":"2020-01-30","v":32},{"r":"Sondrio","d":"2020-02-02","v":33},{"r":"Sondrio","d":"2020-02-06","v":35},{"r":"Sondrio","d":"2020-02-09","v":34},{"r":"Sondrio","d":"2020-02-13","v":36},{"r":"Sondrio","d":"2020-02-16","v":34},{"r":"Sondrio","d":"2020-02-20","v":33},{"r":"Sondrio","d":"2020-02-23","v":32},
{"r":"Sondrio","d":"2020-02-27","v":31},{"r":"Sondrio","d":"2020-03-01","v":32},{"r":"Sondrio","d":"2020-03-04","v":31},{"r":"Sondrio","d":"2020-03-08","v":33},{"r":"Sondrio","d":"2020-03-11","v":38},{"r":"Sondrio","d":"2020-03-14","v":42},{"r":"Sondrio","d":"2020-03-18","v":53},{"r":"Sondrio","d":"2020-03-21","v":60},{"r":"Sondrio","d":"2020-03-24","v":66},{"r":"Sondrio","d":"2020-03-26","v":68},{"r":"Sondrio","d":"2020-03-28","v":73},{"r":"Sondrio","d":"2020-03-30","v":80},{"r":"Sondrio","d":"2020-04-01","v":83},{"r":"Sondrio","d":"2020-04-04","v":91},{"r":"Sondrio","d":"2020-04-06","v":88},{"r":"Sondrio","d":"2020-04-08","v":84},{"r":"Sondrio","d":"2020-04-11","v":77},{"r":"Sondrio","d":"2020-04-14","v":68},{"r":"Sondrio","d":"2020-04-17","v":60},{"r":"Sondrio","d":"2020-04-20","v":56},{"r":"Sondrio","d":"2020-04-23","v":53},{"r":"Sondrio","d":"2020-04-26","v":52},{"r":"Sondrio","d":"2020-04-30","v":50},{"r":"Sondrio","d":"2020-05-04","v":47},{"r":"Sondrio","d":"2020-05-08","v":44},{"r":"Sondrio","d":"2020-05-12","v":40},{"r":"Sondrio","d":"2020-05-16","v":36},{"r":"Sondrio","d":"2020-05-20","v":33},{"r":"Sondrio","d":"2020-05-24","v":31},{"r":"Sondrio","d":"2020-05-28","v":32},
{"r":"Sondrio","d":"2020-05-31","v":30},{"r":"Sondrio","d":"2020-06-04","v":28},{"r":"Sondrio","d":"2020-06-07","v":26},{"r":"Sondrio","d":"2020-06-11","v":27},{"r":"Sondrio","d":"2020-06-14","v":29},{"r":"Sondrio","d":"2020-06-18","v":27},{"r":"Sondrio","d":"2020-06-21","v":24},{"r":"Sondrio","d":"2020-06-25","v":26},{"r":"Sondrio","d":"2020-06-28","v":31},{"r":"Sondrio","d":"2020-07-02","v":29},{"r":"Sondrio","d":"2020-07-05","v":32},{"r":"Sondrio","d":"2020-07-09","v":28},{"r":"Sondrio","d":"2020-07-12","v":30},{"r":"Sondrio","d":"2020-07-16","v":27},{"r":"Sondrio","d":"2020-07-19","v":29},{"r":"Sondrio","d":"2020-07-23","v":26},{"r":"Sondrio","d":"2020-07-26","v":28},{"r":"Sondrio","d":"2020-07-30","v":31},{"r":"Sondrio","d":"2020-08-02","v":29},{"r":"Sondrio","d":"2020-08-06","v":27},{"r":"Sondrio","d":"2020-08-09","v":30},{"r":"Sondrio","d":"2020-08-13","v":31},{"r":"Sondrio","d":"2020-08-16","v":28},{"r":"Sondrio","d":"2020-08-20","v":26},{"r":"Sondrio","d":"2020-08-23","v":28},{"r":"Sondrio","d":"2020-08-27","v":30},{"r":"Sondrio","d":"2020-08-30","v":27},{"r":"Sondrio","d":"2020-09-03","v":29},{"r":"Sondrio","d":"2020-09-06","v":31},{"r":"Sondrio","d":"2020-09-10","v":28},{"r":"Sondrio","d":"2020-09-13","v":30},{"r":"Sondrio","d":"2020-09-17","v":32},{"r":"Sondrio","d":"2020-09-20","v":35},{"r":"Sondrio","d":"2020-09-24","v":33},

{"r":"Varese","d":"2019-09-15","v":25},{"r":"Varese","d":"2019-09-22","v":26},{"r":"Varese","d":"2019-09-29","v":26},{"r":"Varese","d":"2019-10-06","v":27},{"r":"Varese","d":"2019-10-13","v":27},{"r":"Varese","d":"2019-10-20","v":28},{"r":"Varese","d":"2019-10-27","v":27},{"r":"Varese","d":"2019-11-03","v":28},{"r":"Varese","d":"2019-11-10","v":29},{"r":"Varese","d":"2019-11-17","v":28},{"r":"Varese","d":"2019-11-24","v":29},{"r":"Varese","d":"2019-12-01","v":29},{"r":"Varese","d":"2019-12-08","v":30},{"r":"Varese","d":"2019-12-15","v":29},{"r":"Varese","d":"2019-12-22","v":30},{"r":"Varese","d":"2019-12-29","v":30},{"r":"Varese","d":"2020-01-05","v":29},{"r":"Varese","d":"2020-01-12","v":30},{"r":"Varese","d":"2020-01-19","v":31},{"r":"Varese","d":"2020-01-26","v":30},{"r":"Varese","d":"2020-02-02","v":31},{"r":"Varese","d":"2020-02-09","v":30},{"r":"Varese","d":"2020-02-16","v":30},{"r":"Varese","d":"2020-02-23","v":30},
{"r":"Varese","d":"2020-02-27","v":30},{"r":"Varese","d":"2020-03-02","v":29},{"r":"Varese","d":"2020-03-05","v":29},{"r":"Varese","d":"2020-03-08","v":29},{"r":"Varese","d":"2020-03-11","v":31},{"r":"Varese","d":"2020-03-14","v":33},{"r":"Varese","d":"2020-03-20","v":39},{"r":"Varese","d":"2020-03-25","v":44},{"r":"Varese","d":"2020-03-30","v":48},{"r":"Varese","d":"2020-04-04","v":51},{"r":"Varese","d":"2020-04-09","v":54},{"r":"Varese","d":"2020-04-14","v":55},{"r":"Varese","d":"2020-04-18","v":53},{"r":"Varese","d":"2020-04-22","v":47},{"r":"Varese","d":"2020-04-27","v":42},{"r":"Varese","d":"2020-05-04","v":38},{"r":"Varese","d":"2020-05-13","v":34},{"r":"Varese","d":"2020-05-20","v":31},{"r":"Varese","d":"2020-05-27","v":29},
{"r":"Varese","d":"2020-05-31","v":28},{"r":"Varese","d":"2020-06-07","v":27},{"r":"Varese","d":"2020-06-14","v":27},{"r":"Varese","d":"2020-06-21","v":28},{"r":"Varese","d":"2020-06-28","v":27},{"r":"Varese","d":"2020-07-05","v":28},{"r":"Varese","d":"2020-07-12","v":29},{"r":"Varese","d":"2020-07-19","v":28},{"r":"Varese","d":"2020-07-26","v":28},{"r":"Varese","d":"2020-08-02","v":27},{"r":"Varese","d":"2020-08-09","v":28},{"r":"Varese","d":"2020-08-16","v":28},{"r":"Varese","d":"2020-08-23","v":29},{"r":"Varese","d":"2020-08-30","v":28},{"r":"Varese","d":"2020-09-06","v":27},{"r":"Varese","d":"2020-09-13","v":28},{"r":"Varese","d":"2020-09-20","v":29},{"r":"Varese","d":"2020-09-24","v":28}
]},
"layer":[
{"data":{"name":"main"},
 "mark":{"type":"line","strokeWidth":1.9,"clip":true},
 "encoding":{
  "x":{"field":"d","type":"temporal","scale":{"type":"utc","domain":["2019-09-15","2020-09-24"]},
   "axis":{"title":null,"format":"%b %Y","tickCount":{"interval":"month","step":3},"labelFontSize":28,"labelColor":"#333","labelPadding":8,"ticks":false,"domainColor":"#888","domainWidth":1.5,"gridColor":"#c4c4c4","gridWidth":1.5,"labelFlush":false}},
  "y":{"field":"v","type":"quantitative","scale":{"domain":[0,266.5],"nice":false,"zero":true},
   "axis":{"title":"Deaths per million","values":[0,20,40,60,80,100,120,140,160,180,200,220,240,260],"titleFontSize":32,"titleFontWeight":"normal","titleColor":"#555","titleX":-71,"titleY":484,"titleBaseline":"bottom","labelFontSize":28,"labelColor":"#333","labelPadding":6,"ticks":false,"domainColor":"#999","domainWidth":1.5,"gridColor":"#cfcfcf","gridWidth":2,"labelFlush":true}},
  "color":{"field":"r","type":"nominal",
   "scale":{"domain":["Bergamo","Brescia","Como","Cremona","Lecco","Lodi","Mantova","Milano","Monza e della Brianza","Pavia","Sondrio","Varese"],
            "range":["#924c10","#1f7896","#9a8a10","#1e4496","#6b9416","#26108c","#2c8a1e","#571790","#198548","#8a1a86","#12866c","#870f45"]},
   "legend":{"orient":"none","legendX":720,"legendY":0,"direction":"horizontal","columns":3,"title":null,"fillColor":"white","padding":4,
     "symbolType":"stroke","symbolSize":484,"symbolStrokeWidth":2.5,"symbolOffset":0,
     "labelFont":"Liberation Sans","labelFontSize":27,"labelFontWeight":"bold","labelColor":{"expr":"scale('color', datum.value)"},
     "labelLimit":400,"labelOffset":6,"columnPadding":4,"rowPadding":7,
     "labelExpr":"datum.label == 'Monza e della Brianza' ? ['Monza e della', 'Brianza'] : datum.label"}}
 }},
{"data":{"values":[{}]},
 "mark":{"type":"rect","fill":"white","stroke":"#aaaaaa","strokeWidth":1.5,"cornerRadius":3},
 "encoding":{"x":{"datum":{"year":2019,"month":9,"date":16,"utc":true},"type":"temporal"},"x2":{"datum":{"year":2019,"month":10,"date":1,"utc":true}},
  "y":{"datum":13.5,"type":"quantitative"},"y2":{"datum":0}}},
{"data":{"values":[{}]},
 "mark":{"type":"text","text":"14","fontSize":26,"color":"#555","font":"Liberation Sans"},
 "encoding":{"x":{"datum":{"year":2019,"month":9,"date":23,"hours":12,"utc":true},"type":"temporal"},
  "y":{"datum":6.5,"type":"quantitative"}}}
]
}
